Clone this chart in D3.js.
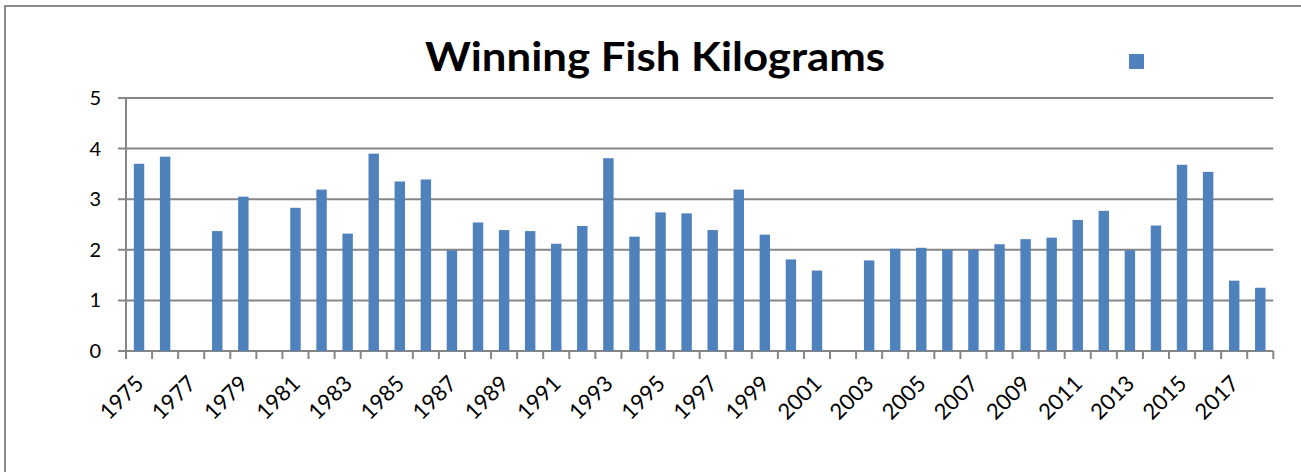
<!DOCTYPE html>
<html>
<head>
<meta charset="utf-8">
<script src="https://cdn.jsdelivr.net/npm/d3@7/dist/d3.min.js"></script>
<style>
  body { margin: 0; background: #fff; }
  svg { display: block; }
  text { font-family: Lato, "Open Sans", sans-serif; fill: #000; }
</style>
</head>
<body>
<script>
// chart data
const years = d3.range(1975, 2019).map(String);
const kilograms = [3.70, 3.84, null, 2.37, 3.05, null, 2.83, 3.19, 2.32, 3.90,
                   3.35, 3.39, 1.99, 2.54, 2.39, 2.37, 2.12, 2.47, 3.81, 2.26,
                   2.74, 2.72, 2.39, 3.19, 2.30, 1.81, 1.59, null, 1.79, 2.02,
                   2.04, 2.00, 2.00, 2.11, 2.21, 2.24, 2.59, 2.77, 1.99, 2.48,
                   3.68, 3.54, 1.39, 1.25];
const yTicks = [0, 1, 2, 3, 4, 5];
const title = "Winning Fish Kilograms";

const W = 1301, H = 472;
const margin = {top: 98, right: 28, bottom: 121, left: 126};

const svg = d3.select("body").append("svg")
  .attr("width", W)
  .attr("height", H);

// outer frame
svg.append("rect")
  .attr("x", 5).attr("y", 6)
  .attr("width", W + 10).attr("height", H + 10)
  .attr("fill", "none")
  .attr("stroke", "#8c8c8c")
  .attr("stroke-width", 2);

const x = d3.scaleBand()
  .domain(years)
  .range([margin.left, W - margin.right + 0.3])
  .paddingInner(0.6)
  .paddingOuter(0.3);

const y = d3.scaleLinear()
  .domain([0, 5])
  .range([H - margin.bottom, margin.top]);

const data = years.map((d, i) => ({year: d, value: kilograms[i]}));
const left = x.range()[0], right = x.range()[1];

// gridlines with tick stubs
svg.append("g")
  .selectAll("line")
  .data(yTicks)
  .join("line")
  .attr("x1", left - 8)
  .attr("x2", right)
  .attr("y1", d => y(d))
  .attr("y2", d => y(d))
  .attr("stroke", "#868686")
  .attr("stroke-width", 2);

// y axis
svg.append("line")
  .attr("x1", left).attr("x2", left)
  .attr("y1", y(5)).attr("y2", y(0) + 8)
  .attr("stroke", "#868686")
  .attr("stroke-width", 2);

svg.append("g")
  .selectAll("text")
  .data(yTicks)
  .join("text")
  .attr("x", 101)
  .attr("y", d => y(d))
  .attr("dy", "0.35em")
  .attr("text-anchor", "end")
  .style("font-size", "20px")
  .text(d => d);

// x axis ticks at category boundaries
const step = x.step();
svg.append("g")
  .selectAll("line")
  .data(d3.range(years.length + 1))
  .join("line")
  .attr("x1", k => left + k * step)
  .attr("x2", k => left + k * step)
  .attr("y1", y(0))
  .attr("y2", y(0) + 8)
  .attr("stroke", "#868686")
  .attr("stroke-width", 2);

// bars
svg.append("g")
  .selectAll("rect")
  .data(data.filter(d => d.value != null))
  .join("rect")
  .attr("x", d => x(d.year))
  .attr("y", d => y(d.value))
  .attr("width", x.bandwidth())
  .attr("height", d => y(0) - y(d.value))
  .attr("fill", "#4f81bd");

// x labels, every other year
svg.append("g")
  .selectAll("text")
  .data(years.filter((d, i) => i % 2 === 0))
  .join("text")
  .attr("transform", d => `translate(${x(d) + x.bandwidth() / 2 + 6},${y(0) + 34}) rotate(-45)`)
  .attr("text-anchor", "end")
  .style("font-size", "22px")
  .text(d => d);

// title
svg.append("text")
  .attr("x", 655)
  .attr("y", 71)
  .attr("text-anchor", "middle")
  .attr("textLength", 460)
  .attr("lengthAdjust", "spacingAndGlyphs")
  .style("font-size", "41px")
  .style("font-weight", "bold")
  .text(title);

// legend marker (series has no name)
svg.append("rect")
  .attr("x", 1129).attr("y", 54)
  .attr("width", 15).attr("height", 15)
  .attr("fill", "#4f81bd");
</script>
</body>
</html>
